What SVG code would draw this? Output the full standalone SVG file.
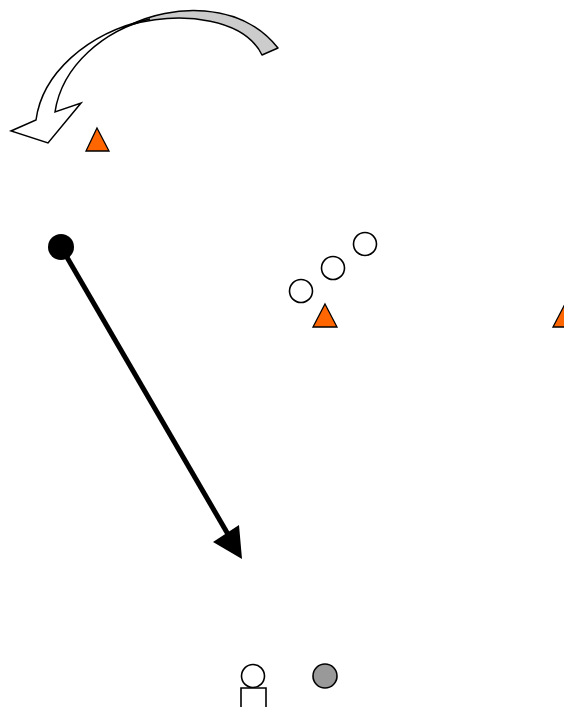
<svg xmlns="http://www.w3.org/2000/svg" width="564" height="707" viewBox="0 0 564 707">
<style>
.cone{fill:#FF6600;stroke:#000;stroke-width:1.3;stroke-linejoin:miter}
.player{fill:#fff;stroke:#000;stroke-width:1.6}
</style>
<rect width="564" height="707" fill="#fff"/>
<g id="curved-arrow">
<path d="M130 25 C170 5 240 0 278 48 L262 55 C245 20 185 10 130 25 Z" fill="#CCCCCC" stroke="#000" stroke-width="1.5" stroke-linejoin="round"/>
<path d="M150 19 C105 30 62 65 55 112 L81 103 L48 143 L11 131 L36 120 C42 75 85 33 150 19 Z" fill="#fff" stroke="#000" stroke-width="1.5" stroke-linejoin="miter"/>
</g>
<g id="cone1"><polygon class="cone" points="97,128 109,151 86,151"/></g>
<g id="cone2"><polygon class="cone" points="325,304 337,327 313,327"/></g>
<g id="cone3"><polygon class="cone" points="565,304 577,327 553,327"/></g>
<g id="p1"><circle class="player" cx="301" cy="291" r="11.5"/></g>
<g id="p2"><circle class="player" cx="333" cy="268" r="11.5"/></g>
<g id="p3"><circle class="player" cx="365" cy="244" r="11.5"/></g>
<g id="ball-start"><circle cx="61" cy="247" r="13" fill="#000"/></g>
<g id="connectors">
<line x1="61" y1="247" x2="229" y2="536" stroke="#000" stroke-width="5"/>
<polygon points="213,542 239,525 242,559" fill="#000"/>
</g>
<g id="person">
<circle class="player" cx="253" cy="676" r="11.5"/>
<path d="M241 708 V688 H266 V708" fill="#fff" stroke="#000" stroke-width="1.6"/>
</g>
<g id="gray-player"><circle cx="325" cy="676" r="12" fill="#999999" stroke="#000" stroke-width="1.6"/></g>
</svg>
